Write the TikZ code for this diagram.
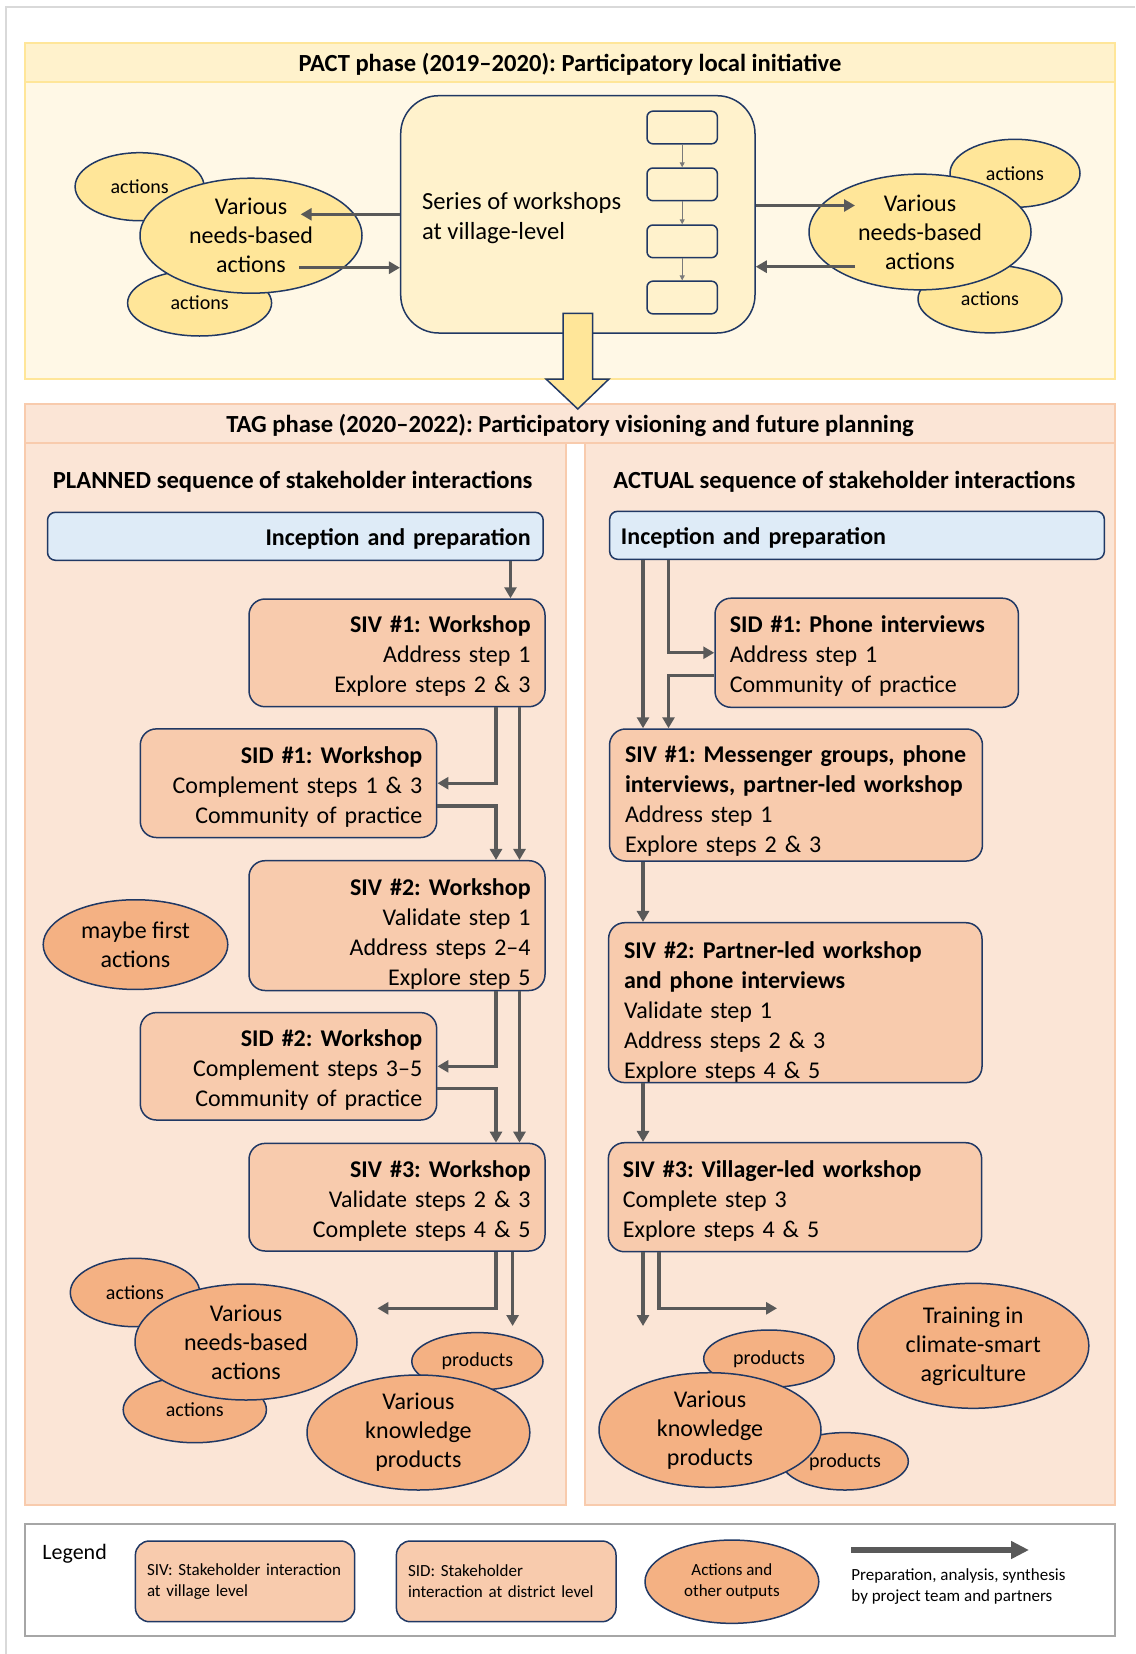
\documentclass[tikz,border=0pt]{standalone}
\usepackage{fontspec}
\setmainfont{Carlito}
\frenchspacing
\usetikzlibrary{arrows.meta,shapes.geometric,calc}
\newcommand\mytop[1]{\rule{0pt}{#1}}
\definecolor{navy}{HTML}{203864}
\definecolor{pactHead}{HTML}{FFF2CC}
\definecolor{pactBody}{HTML}{FFF8E6}
\definecolor{pactLine}{HTML}{FFE699}
\definecolor{yel}{HTML}{FFE699}
\definecolor{tagFill}{HTML}{FBE5D6}
\definecolor{tagLine}{HTML}{F8CBAD}
\definecolor{boxFill}{HTML}{F8CBAD}
\definecolor{outFill}{HTML}{F4B183}
\definecolor{incFill}{HTML}{DEEBF7}
\definecolor{arrGrey}{HTML}{595959}
\definecolor{frameGrey}{HTML}{D9D9D9}
\definecolor{legLine}{HTML}{A6A6A6}
\tikzset{
  box/.style={draw=navy, line width=0.75pt, fill=boxFill, rounded corners=8pt, inner ysep=0pt, font=\fontsize{12}{15}\selectfont},
  incbox/.style={draw=navy, line width=0.75pt, fill=incFill, rounded corners=4pt, inner ysep=0pt, font=\bfseries\fontsize{12}{14.75}\selectfont},
  outell/.style={ellipse, draw=navy, line width=0.75pt, fill=outFill, inner sep=0pt, align=center, font=\fontsize{12}{14.5}\selectfont},
  yelell/.style={outell, fill=yel},
  smalltxt/.style={font=\fontsize{10}{12}\selectfont},
  arr/.style={draw=arrGrey, line width=1.7pt, -{Triangle[length=5.5pt,width=6pt]}},
  thinarr/.style={draw=arrGrey!80, line width=0.5pt, -{Triangle[length=2.5pt,width=2.5pt]}},
  legarr/.style={draw=arrGrey, line width=3.3pt, -{Triangle[length=9pt,width=8.5pt]}},
  headtxt/.style={font=\bfseries\fontsize{12.3}{15}\selectfont},
  smallbox/.style={draw=navy, line width=0.75pt, fill=pactHead, rounded corners=3pt, minimum width=35.2pt, minimum height=16.35pt, inner sep=0pt},
  legbox/.style={draw=navy, line width=0.75pt, fill=boxFill, rounded corners=7pt, inner ysep=0pt, minimum height=40.35pt, align=left, font=\fontsize{8.5}{10.3}\selectfont},
}
\begin{document}
\begin{tikzpicture}[x=0.5pt,y=-0.5pt]
\useasboundingbox (0,0) rectangle (1135,1654);
% outer frame
\draw[frameGrey, line width=1pt] (6,1654) -- (6,7.3) -- (1135,7.3);

% ---------------- PACT ----------------
\fill[pactBody] (25.3,81.7) rectangle (1115,379.3);
\fill[pactHead] (25.3,43.3) rectangle (1115,81.7);
\draw[pactLine, line width=1pt] (25.3,43.3) rectangle (1115,379.3);
\draw[pactLine, line width=1pt] (25.3,81.7) -- (1115,81.7);
\node[headtxt] (pacttitle) at (570,64.5) {PACT phase (2019–2020): Participatory local initiative};

\node[draw=navy, line width=0.75pt, fill=pactHead, rounded corners=19pt, minimum width=177.15pt, minimum height=118.65pt, inner sep=0pt] (ws) at (577.85,214.35) {};
\node[anchor=west, align=left, inner sep=0pt, font=\fontsize{12.3}{14.65}\selectfont] (wstext) at (421.7,218) {Series of workshops\\at village-level};
\node[smallbox] (s1) at (682.2,127.5) {};
\node[smallbox] (s2) at (682.2,184.35) {};
\node[smallbox] (s3) at (682.2,241.35) {};
\node[smallbox] (s4) at (682.2,297.5) {};
\draw[thinarr] (s1.south) -- (s2.north);
\draw[thinarr] (s2.south) -- (s3.north);
\draw[thinarr] (s3.south) -- (s4.north);

% left yellow cluster
\node[yelell, smalltxt, minimum width=64.5pt, minimum height=34pt] (aL1) at (139.6,186.7) {actions};
\node[yelell, smalltxt, minimum width=72pt, minimum height=33pt] (aL2) at (199.6,303) {actions};
\node[yelell, minimum width=111pt, minimum height=57.5pt] (nL) at (251,235.7) {Various\\needs-based\\actions};
% right yellow cluster
\node[yelell, smalltxt, minimum width=65pt, minimum height=34pt] (aR1) at (1015,173.3) {actions};
\node[yelell, smalltxt, minimum width=72pt, minimum height=33.85pt] (aR2) at (990,299) {actions};
\node[yelell, minimum width=111pt, minimum height=57.85pt] (nR) at (920,232) {Various\\needs-based\\actions};

\coordinate (pl1) at (300.7,214.3);
\coordinate (pl2) at (299,267.7);
\coordinate (pr1) at (855,205.5);
\coordinate (pr2) at (855,266.7);
\draw[arr] (ws.west |- pl1) -- (pl1);
\draw[arr] (pl2) -- (ws.west |- pl2);
\draw[arr] (ws.east |- pr1) -- (pr1);
\draw[arr] (pr2) -- (ws.east |- pr2);

% ---------------- TAG ----------------
\fill[tagFill] (25.3,404) rectangle (1115,443);
\draw[tagLine, line width=1pt] (25.3,404) rectangle (1115,443);
\fill[tagFill] (25.3,443) rectangle (566.4,1505);
\draw[tagLine, line width=1pt] (25.3,443) rectangle (566.4,1505);
\fill[tagFill] (585,443) rectangle (1115,1505);
\draw[tagLine, line width=1pt] (585,443) rectangle (1115,1505);
\node[headtxt] (tagtitle) at (570,425.5) {TAG phase (2020–2022): Participatory visioning and future planning};

% big yellow arrow from PACT to TAG
\draw[navy, line width=0.75pt, fill=yel, line join=miter] (563,313.3) -- (592.7,313.3) -- (592.7,379) -- (609,379) -- (577.8,409) -- (546,379) -- (563,379) -- cycle;

\node[headtxt] (plan) at (292.7,482) {PLANNED sequence of stakeholder interactions};
\node[headtxt] (actual) at (844.4,482) {ACTUAL sequence of stakeholder interactions};

% planned column
\node[incbox, text width=235.25pt, inner xsep=6.3pt, minimum height=24pt, align=right] (incL) at (295.35,536.3) {\mytop{11pt}Inception and preparation};
\node[box, text width=133.6pt, inner xsep=7.2pt, minimum height=53.85pt, align=right] (sivL1) at (397,652.85) {\mytop{12pt}\textbf{SIV \#1: Workshop}\\Address step 1\\Explore steps 2 \& 3};
\node[box, text width=133.8pt, inner xsep=7.2pt, minimum height=54.3pt, align=right] (sidL1) at (288.5,783.2) {\mytop{12pt}\textbf{SID \#1: Workshop}\\Complement steps 1 \& 3\\Community of practice};
\node[box, text width=133.6pt, inner xsep=7.2pt, minimum height=64.9pt, align=right] (sivL2) at (397,925.6) {\mytop{17pt}\textbf{SIV \#2: Workshop}\\Validate step 1\\Address steps 2–4\\Explore step 5};
\node[box, text width=133.8pt, inner xsep=7.2pt, minimum height=53.7pt, align=right] (sidL2) at (288.5,1066.3) {\mytop{12pt}\textbf{SID \#2: Workshop}\\Complement steps 3–5\\Community of practice};
\node[box, text width=133.6pt, inner xsep=7.2pt, minimum height=53.8pt, align=right] (sivL3) at (397,1197.2) {\mytop{12pt}\textbf{SIV \#3: Workshop}\\Validate steps 2 \& 3\\Complete steps 4 \& 5};

\node[outell, minimum width=92.3pt, minimum height=44.85pt] (maybe) at (135.5,944.6) {maybe first\\actions};

\coordinate (xl0) at (510.5,0);
\coordinate (xl1) at (496,0);
\coordinate (xl2) at (519.5,0);
\draw[arr] (incL.south -| xl0) -- (sivL1.north -| xl0);
\draw[arr] (sivL1.south -| xl1) |- (sidL1.east);
\draw[arr] (sivL1.south -| xl2) -- (sivL2.north -| xl2);
\draw[arr] ([yshift=-11.35pt]sidL1.east) -| (sivL2.north -| xl1);
\draw[arr] (sivL2.south -| xl1) |- (sidL2.east);
\draw[arr] (sivL2.south -| xl2) -- (sivL3.north -| xl2);
\draw[arr] ([yshift=-11.15pt]sidL2.east) -| (sivL3.north -| xl1);
\coordinate (endL1) at (377.4,1308.3);
\coordinate (endL2) at (512.6,1326);
\draw[arr] (sivL3.south -| xl1) |- (endL1);
\draw[arr] (sivL3.south -| endL2) -- (endL2);

% planned outputs
\node[outell, smalltxt, minimum width=64.7pt, minimum height=34.2pt] (oaL1) at (135,1292.5) {actions};
\node[outell, smalltxt, minimum width=71.6pt, minimum height=33pt] (oaL2) at (194.8,1409.7) {actions};
\node[outell, minimum width=111pt, minimum height=58pt] (onL) at (246,1342) {Various\\needs-based\\actions};
\node[outell, smalltxt, minimum width=65.6pt, minimum height=28.7pt] (opL) at (477.4,1361.3) {products};
\node[outell, minimum width=111.4pt, minimum height=57.5pt] (okL) at (418.4,1432.5) {Various\\knowledge\\products};

% actual column
\node[incbox, text width=236.05pt, inner xsep=5.65pt, minimum height=24pt, align=left] (incR) at (857,535.3) {\mytop{11pt}Inception and preparation};
\node[box, text width=136.9pt, inner xsep=7.4pt, minimum height=54.55pt, align=left] (sidR1) at (866.7,652.75) {\mytop{12pt}\textbf{SID \#1: Phone interviews}\\Address step 1\\Community of practice};
\node[box, text width=170.95pt, inner xsep=7.75pt, minimum height=66pt, align=left] (sivR1) at (796,795) {\mytop{14.5pt}\mbox{\textbf{SIV \#1: Messenger groups, phone}}\\\mbox{\textbf{interviews, partner-led workshop}}\\Address step 1\\Explore steps 2 \& 3};
\node[box, text width=171.2pt, inner xsep=7.75pt, minimum height=79.65pt, align=left] (sivR2) at (795.3,1002.65) {\mytop{18pt}\textbf{SIV \#2: Partner-led workshop}\\\textbf{and phone interviews}\\Validate step 1\\Address steps 2 \& 3\\Explore steps 4 \& 5};
\node[box, text width=172.05pt, inner xsep=7.3pt, minimum height=54.5pt, align=left] (sivR3) at (795,1197.2) {\mytop{12pt}\textbf{SIV \#3: Villager-led workshop}\\Complete step 3\\Explore steps 4 \& 5};

\coordinate (xr1) at (643,0);
\coordinate (xr2) at (668.5,0);
\coordinate (xr3) at (659,0);
\draw[arr] (incR.south -| xr1) -- (sivR1.north -| xr1);
\draw[arr] (incR.south -| xr2) |- (sidR1.west);
\draw[arr] ([yshift=-11.4pt]sidR1.west) -| (sivR1.north -| xr2);
\draw[arr] (sivR1.south -| xr1) -- (sivR2.north -| xr1);
\draw[arr] (sivR2.south -| xr1) -- (sivR3.north -| xr1);
\coordinate (endR1) at (643,1326);
\coordinate (endR2) at (777,1308.3);
\draw[arr] (sivR3.south -| xr1) -- (endR1);
\draw[arr] (sivR3.south -| xr3) |- (endR2);

% actual outputs
\node[outell, smalltxt, minimum width=65.3pt, minimum height=28.7pt] (opR1) at (769,1358.7) {products};
\node[outell, minimum width=63.3pt, minimum height=28.7pt] (opR2) at (845,1461.3) {};
\node[outell, minimum width=111pt, minimum height=57.3pt] (okR) at (710,1430) {Various\\knowledge\\products};
\node[smalltxt, inner sep=0pt] (opR2t) at (845,1462.5) {products};
\node[outell, minimum width=115.5pt, minimum height=62.5pt] (train) at (973.3,1345.8) {Training in\\climate-smart\\agriculture};

% ---------------- Legend ----------------
\draw[legLine, line width=1pt, fill=white] (25.3,1524.3) rectangle (1115,1636);
\node[anchor=west, inner sep=0pt, font=\fontsize{11}{13}\selectfont] (legend) at (42,1554) {Legend};
\node[legbox, text width=98.05pt, inner xsep=5.8pt] (legSIV) at (245.05,1581.35) {SIV: Stakeholder interaction\\at village level};
\node[legbox, text width=98.2pt, inner xsep=5.8pt] (legSID) at (506.2,1581.35) {SID: Stakeholder\\interaction at district level};
\node[outell, minimum width=86.9pt, minimum height=41.65pt, font=\fontsize{8.5}{10.3}\selectfont] (legEll) at (731.9,1581.7) {Actions and\\other outputs};
\coordinate (la1) at (851,1550);
\coordinate (la2) at (1029,1550);
\draw[legarr] (la1) -- (la2);
\node[anchor=west, align=left, inner sep=0pt, font=\fontsize{8.5}{10.5}\selectfont] (legtxt) at (851,1586.2) {Preparation, analysis, synthesis\\by project team and partners};
\end{tikzpicture}
\end{document}
